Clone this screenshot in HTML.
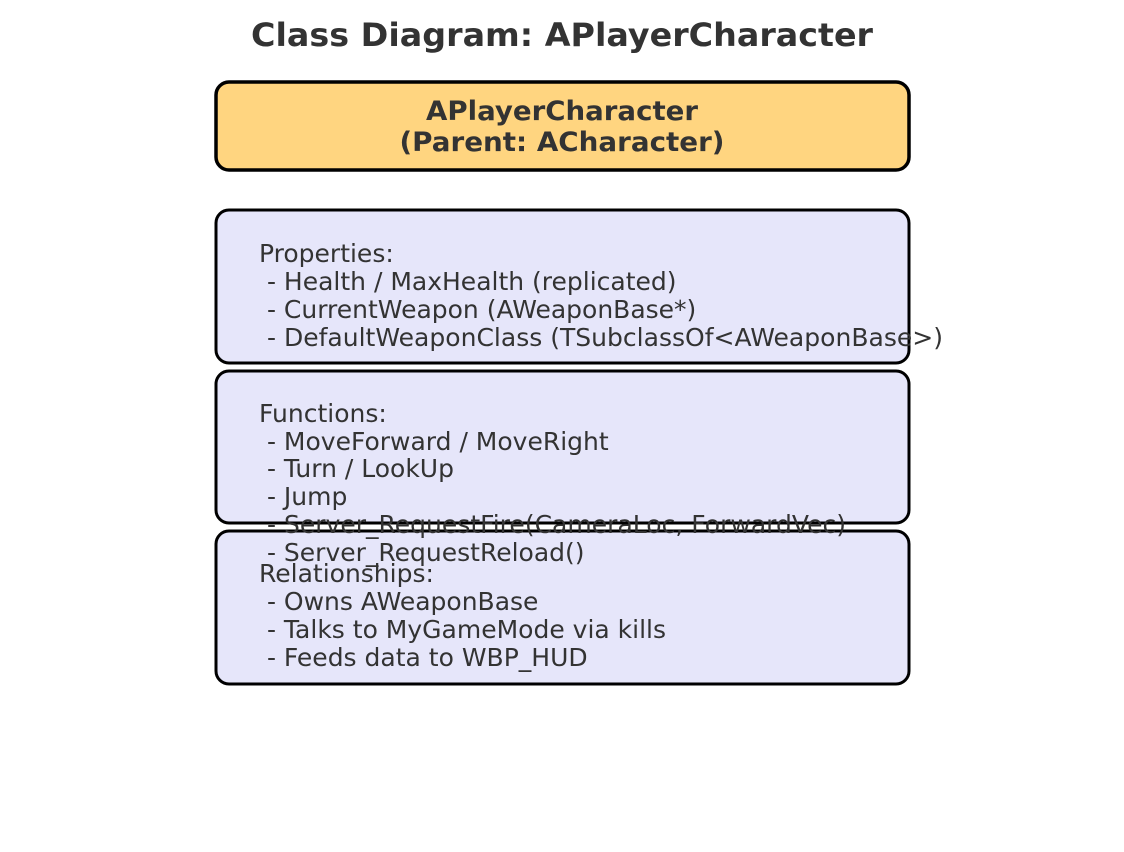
<!DOCTYPE html>
<html><head><meta charset="utf-8"><style>
html,body{margin:0;padding:0;background:#fff;}
svg{display:block;}
text{font-family:"DejaVu Sans","Liberation Sans",sans-serif;fill:#333;}
</style></head><body>
<svg width="1124" height="852" viewBox="0 0 1124 852" xmlns="http://www.w3.org/2000/svg">
<text x="562" y="46" font-size="32" font-weight="bold" text-anchor="middle" textLength="622" lengthAdjust="spacingAndGlyphs">Class Diagram: APlayerCharacter</text>
<rect x="216" y="82" width="693" height="88" rx="13" fill="#FFD580" stroke="#000" stroke-width="3.5"/>
<rect x="216" y="210" width="693" height="153" rx="13" fill="#E6E6FA" stroke="#000" stroke-width="3"/>
<rect x="216" y="371" width="693" height="152" rx="13" fill="#E6E6FA" stroke="#000" stroke-width="3"/>
<rect x="216" y="531" width="693" height="153" rx="13" fill="#E6E6FA" stroke="#000" stroke-width="3"/>
<g font-size="27" font-weight="bold" text-anchor="middle">
<text x="562" y="120" textLength="272" lengthAdjust="spacingAndGlyphs">APlayerCharacter</text>
<text x="562" y="151" textLength="325" lengthAdjust="spacingAndGlyphs">(Parent: ACharacter)</text>
</g>
<g font-size="25">
<text x="259" y="262">Properties:</text>
<text x="259" y="290" xml:space="preserve"> - Health / MaxHealth (replicated)</text>
<text x="259" y="318" xml:space="preserve"> - CurrentWeapon (AWeaponBase*)</text>
<text x="259" y="346" xml:space="preserve" textLength="684" lengthAdjust="spacingAndGlyphs"> - DefaultWeaponClass (TSubclassOf&lt;AWeaponBase&gt;)</text>
<text x="259" y="422">Functions:</text>
<text x="259" y="450" xml:space="preserve"> - MoveForward / MoveRight</text>
<text x="259" y="477" xml:space="preserve"> - Turn / LookUp</text>
<text x="259" y="505" xml:space="preserve"> - Jump</text>
<text x="259" y="533" xml:space="preserve" textLength="587" lengthAdjust="spacingAndGlyphs"> - Server_RequestFire(CameraLoc, ForwardVec)</text>
<text x="259" y="561" xml:space="preserve"> - Server_RequestReload()</text>
<text x="259" y="582">Relationships:</text>
<text x="259" y="610" xml:space="preserve"> - Owns AWeaponBase</text>
<text x="259" y="638" xml:space="preserve"> - Talks to MyGameMode via kills</text>
<text x="259" y="666" xml:space="preserve"> - Feeds data to WBP_HUD</text>
</g>
</svg>
</body></html>
